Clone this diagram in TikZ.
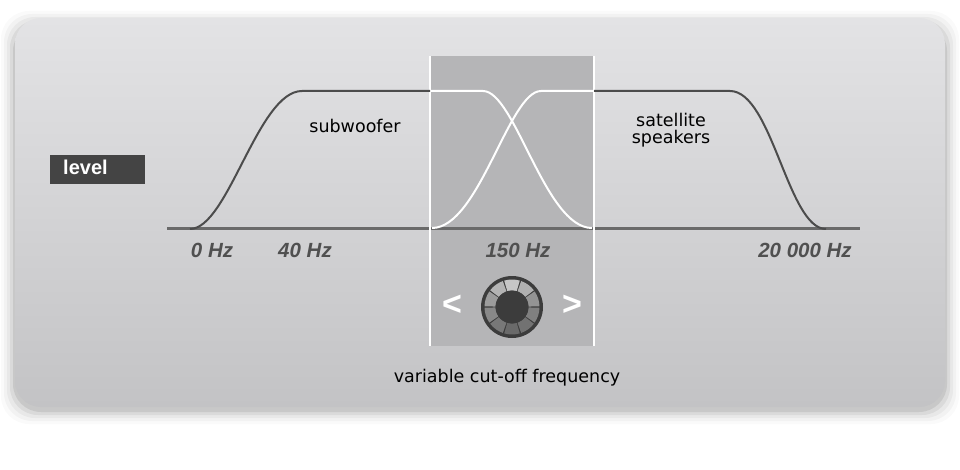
\documentclass[tikz,border=0pt]{standalone}
\usepackage{fontspec}
\setmainfont{DejaVu Sans}
\newfontfamily\hzfont{Liberation Sans}
\definecolor{paneltop}{HTML}{E3E3E5}
\definecolor{panelbot}{HTML}{C3C3C5}
\definecolor{bandgray}{HTML}{B5B5B7}
\definecolor{curvegray}{HTML}{4C4C4C}
\definecolor{basegray}{HTML}{6A6A6A}
\definecolor{labelgray}{HTML}{505050}
\definecolor{boxdark}{HTML}{444444}
\definecolor{knobdark}{HTML}{3C3C3C}
\begin{document}
\begin{tikzpicture}[x=1pt,y=-1pt,
  hzlabel/.style={font=\hzfont\bfseries\itshape\fontsize{20.5}{22}\selectfont,text=labelgray,anchor=base},
  plainlabel/.style={font=\fontsize{17.5}{17}\selectfont,text=black,align=center,anchor=base},
  darkcurve/.style={draw=curvegray,line width=2pt},
  whitecurve/.style={draw=white,line width=2pt}]
\useasboundingbox (0,0) rectangle (960,470);
\fill[white] (0,0) rectangle (960,470);
% shadow
\foreach \d/\o in {14/0.02,11/0.03,8/0.04,5/0.06,2/0.08}{
  \fill[black,opacity=\o,rounded corners=28] (15-\d,20-\d+5) rectangle (945+\d,407+\d+3);
}
% panel
\shade[rounded corners=26,top color=paneltop,bottom color=panelbot] (15,18) rectangle (945,407);
% band
\fill[bandgray] (430,56) rectangle (594,346);
% baseline
\draw[basegray,line width=3pt] (167,229) -- (860,229);
% band borders
\draw[white,line width=2pt] (430,56) -- (430,346);
\draw[white,line width=2pt] (594,56) -- (594,346);
% dark curves
\draw[darkcurve] (190,229) .. controls (228,229) and (258,91) .. (302,91) -- (430,91);
\draw[darkcurve] (594,91) -- (730,91) .. controls (772,91) and (788,229) .. (826,229);
% white curves in band
\draw[whitecurve] (431,91) -- (483,91) .. controls (515,91) and (545,228) .. (592,228);
\draw[whitecurve] (432,228) .. controls (479,228) and (509,91) .. (541,91) -- (593,91);
% labels
\node[plainlabel] (sub) at (355,133) {subwoofer};
\node[plainlabel] (sat1) at (671,127) {satellite};
\node[plainlabel] (sat2) at (671,144) {speakers};
\node[fill=boxdark,minimum width=95pt,minimum height=29pt,inner sep=0pt] (lvlbox) at (97.5,169.5) {};
\node[anchor=base west,text=white,font=\hzfont\bfseries\fontsize{20}{22}\selectfont,inner sep=0pt] (lvl) at (63,175) {level};
\node[hzlabel] (h0) at (212,257) {0 Hz};
\node[hzlabel] (h40) at (305,257) {40 Hz};
\node[hzlabel] (h150) at (518,257) {150 Hz};
\node[hzlabel] (h20k) at (805,257) {20 000 Hz};
\node[plainlabel] (var) at (507,382) {variable cut-off frequency};
% knob
\node[circle,fill=knobdark,minimum size=62pt,inner sep=0pt] (knob) at (512,307) {};
\begin{scope}[shift={(512,307)},yscale=-1]
\foreach \a/\c in {90/C6C6C6,54/B0B0B0,126/B4B4B4,18/949494,162/9C9C9C,-18/808080,198/888888,-54/727272,234/787878,-90/6A6A6A}{
  \definecolor{segc}{HTML}{\c}
  \fill[segc] (\a-16.5:16.5) -- (\a-16.5:27.5) arc[start angle=\a-16.5,end angle=\a+16.5,radius=27.5] -- (\a+16.5:16.5) arc[start angle=\a+16.5,end angle=\a-16.5,radius=16.5] -- cycle;
}
\fill[knobdark] (0,0) circle (16.5pt);
\end{scope}
\node[text=white,font=\hzfont\bfseries\fontsize{34}{34}\selectfont] (lt) at (452,305) {<};
\node[text=white,font=\hzfont\bfseries\fontsize{34}{34}\selectfont] (gt) at (572,305) {>};
\end{tikzpicture}
\end{document}
